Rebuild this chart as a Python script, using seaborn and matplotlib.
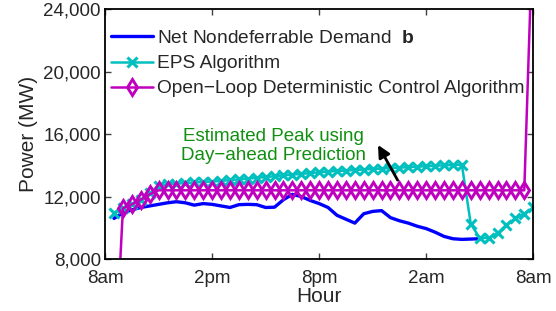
import numpy as np
import pandas as pd
import matplotlib
matplotlib.use('Agg')
import matplotlib.pyplot as plt
import seaborn as sns
from matplotlib.ticker import FuncFormatter

# half-hour samples starting 8:30am, values in MW
net_demand = [10600, 10950, 11150, 11300, 11400, 11500, 11600, 11670, 11600, 11450,
              11550, 11500, 11400, 11300, 11480, 11500, 11480, 11300, 11320, 11800,
              12140, 12000, 11750, 11550, 11300, 10800, 10550, 10300, 10900, 11050,
              11100, 10650, 10450, 10300, 10100, 9950, 9720, 9450, 9300, 9260,
              9280, 9300]
eps = [10950, 11250, 11500, 11800, 12200, 12700, 12780, 12830, 12860, 12900,
       12930, 12960, 13000, 13050, 13100, 13150, 13200, 13250, 13300, 13350,
       13400, 13450, 13500, 13550, 13600, 13630, 13660, 13700, 13730, 13760,
       13790, 13820, 13850, 13880, 13910, 13940, 13970, 14000, 14020, 14040,
       10250, 9350, 9350, 9650, 10200, 10600, 10900, 11300]
open_loop = [0, 11250, 11500, 11800, 12150] + [12400] * 42 + [30000]

xtick_pos = [0, 6, 12, 18, 24]
xtick_lab = ['8am', '2pm', '8pm', '2am', '8am']
ytick_pos = [8000, 12000, 16000, 20000, 24000]

def half_hours(vals):
    return 0.5 * (np.arange(len(vals)) + 1)

sns.set_style('ticks')
plt.rcParams['font.family'] = ['Liberation Sans', 'DejaVu Sans']
plt.rcParams['mathtext.fontset'] = 'custom'
plt.rcParams['mathtext.bf'] = 'Liberation Sans:bold'

fig = plt.figure(figsize=(5.56, 3.11), dpi=100)
ax = fig.add_axes([0.189, 0.167, 0.770, 0.804])

blue, cyan, magenta = '#0000ff', '#00bfbf', '#bf00bf'
sns.lineplot(ax=ax, x=half_hours(net_demand), y=net_demand, color=blue, lw=2.4,
             label=r'Net Nondeferrable Demand  $\mathbf{b}$')
sns.lineplot(ax=ax, x=half_hours(eps), y=eps, color=cyan, lw=1.8, marker='x',
             markersize=6.5, mew=2.2, mec=cyan, label='EPS Algorithm')
sns.lineplot(ax=ax, x=half_hours(open_loop), y=open_loop, color=magenta, lw=1.8, marker='d',
             markersize=8, mew=2.1, mec=magenta, mfc='none',
             label='Open\u2212Loop Deterministic Control Algorithm')

ax.text(9.45, 15250, 'Estimated Peak using\nDay\u2212ahead Prediction',
        ha='center', va='center', color='#108f10', fontsize=13.5, linespacing=1.15)
ax.annotate('', xy=(15.3, 15300), xytext=(16.4, 13050),
            arrowprops=dict(arrowstyle='-|>', color='k', lw=2, mutation_scale=18, shrinkA=0, shrinkB=0))

ax.set_xlim(0, 24)
ax.set_ylim(8000, 24000)
ax.set_xticks(xtick_pos)
ax.set_xticklabels(xtick_lab)
ax.set_yticks(ytick_pos)
ax.yaxis.set_major_formatter(FuncFormatter(lambda v, p: f'{int(v):,}'))
ax.tick_params(direction='in', length=4, width=1, top=True, right=True, labelsize=13.5,
               color='#404040')
ax.tick_params(axis='y', pad=3)
ax.tick_params(axis='x', pad=8)
for s in ax.spines.values():
    s.set_linewidth(1.3)
    s.set_color('k')
ax.set_xlabel('Hour', fontsize=15, labelpad=0)
ax.set_ylabel('Power (MW)', fontsize=15, labelpad=4)

leg = ax.legend(loc='upper left', bbox_to_anchor=(0.0, 0.941), frameon=False, fontsize=13.8,
                handlelength=2.2, handletextpad=0.2, labelspacing=0.41, borderaxespad=0,
                borderpad=0.3)

fig.savefig('out.png', dpi=100)
